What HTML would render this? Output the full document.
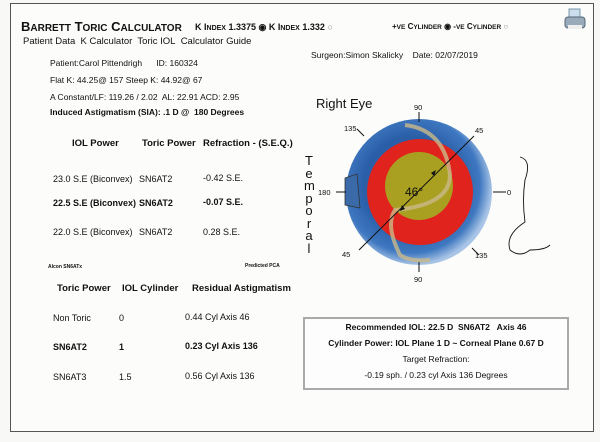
<!DOCTYPE html>
<html><head><meta charset="utf-8"><style>
body{margin:0;width:600px;height:442px;background:#f8f8f6;font-family:"Liberation Sans",sans-serif;color:#111;position:relative;overflow:hidden}
.t{position:absolute;white-space:nowrap}
.s{font-size:8.5px}
.b{font-weight:bold}
.c{font-family:"Liberation Sans",sans-serif}
.h{font-size:9.5px;font-weight:bold}
.r{font-size:9px}
</style></head><body>
<div style="position:absolute;left:10px;top:3px;width:582px;height:427px;border:1.5px solid #555;background:#fcfcfb"></div>
<div class="t b" style="left:21px;top:19px;font-size:13px">B<span style="font-size:10px">ARRETT</span> T<span style="font-size:10px">ORIC</span> C<span style="font-size:10px">ALCULATOR</span></div>
<div class="t b" style="left:195px;top:22px;font-size:9px">K I<span style="font-size:7px">NDEX</span> 1.3375 ◉ K I<span style="font-size:7px">NDEX</span> 1.332 <span style="font-weight:normal;color:#888">○</span></div>
<div class="t b" style="left:392px;top:22px;font-size:8px">+<span style="font-size:6.5px">VE</span> C<span style="font-size:6.5px">YLINDER</span> ◉ -<span style="font-size:6.5px">VE</span> C<span style="font-size:6.5px">YLINDER</span> <span style="font-weight:normal;color:#888">○</span></div>
<svg style="position:absolute;left:563px;top:8px" width="24" height="24"><rect x="6" y="1" width="11" height="9" fill="#cde" stroke="#79a"/><rect x="2" y="9" width="20" height="11" rx="3" fill="#9ab" stroke="#567"/><rect x="5" y="17" width="14" height="4" fill="#eee"/></svg>
<div class="t c" style="left:23px;top:36px;font-size:9.5px">Patient Data&nbsp; K Calculator&nbsp; Toric IOL&nbsp; Calculator Guide</div>
<div class="t s" style="left:50px;top:58px">Patient:Carol Pittendrigh &nbsp;&nbsp;&nbsp;&nbsp; ID: 160324</div>
<div class="t s" style="left:50px;top:75px">Flat K: 44.25@ 157 Steep K: 44.92@ 67</div>
<div class="t s" style="left:50px;top:92px">A Constant/LF: 119.26 / 2.02&nbsp; AL: 22.91 ACD: 2.95</div>
<div class="t s b" style="left:50px;top:107px">Induced Astigmatism (SIA): .1 D @&nbsp; 180 Degrees</div>
<div class="t s" style="left:311px;top:50px">Surgeon:Simon Skalicky &nbsp;&nbsp; Date: 02/07/2019</div>
<div class="t h" style="left:72px;top:138px">IOL Power</div>
<div class="t h" style="left:142px;top:138px">Toric Power</div>
<div class="t h" style="left:203px;top:138px">Refraction - (S.E.Q.)</div>
<div class="t r" style="left:53px;top:174px">23.0 S.E (Biconvex)</div><div class="t r" style="left:139px;top:174px">SN6AT2</div><div class="t r" style="left:203px;top:173px">-0.42 S.E.</div>
<div class="t r b" style="left:53px;top:198px">22.5 S.E (Biconvex)</div><div class="t r b" style="left:139px;top:198px">SN6AT2</div><div class="t r b" style="left:203px;top:197px">-0.07 S.E.</div>
<div class="t r" style="left:53px;top:227px">22.0 S.E (Biconvex)</div><div class="t r" style="left:139px;top:227px">SN6AT2</div><div class="t r" style="left:203px;top:227px">0.28 S.E.</div>
<div class="t b" style="left:48px;top:264px;font-size:5px">Alcon SN6ATx</div>
<div class="t b" style="left:245px;top:263px;font-size:5px">Predicted PCA</div>
<div class="t h" style="left:57px;top:283px">Toric Power</div>
<div class="t h" style="left:122px;top:283px">IOL Cylinder</div>
<div class="t h" style="left:192px;top:283px">Residual Astigmatism</div>
<div class="t r" style="left:53px;top:313px">Non Toric</div><div class="t r" style="left:119px;top:313px">0</div><div class="t r" style="left:185px;top:312px">0.44 Cyl Axis 46</div>
<div class="t r b" style="left:53px;top:342px">SN6AT2</div><div class="t r b" style="left:119px;top:342px">1</div><div class="t r b" style="left:185px;top:341px">0.23 Cyl Axis 136</div>
<div class="t r" style="left:53px;top:372px">SN6AT3</div><div class="t r" style="left:119px;top:372px">1.5</div><div class="t r" style="left:185px;top:371px">0.56 Cyl Axis 136</div>
<div style="position:absolute;left:303px;top:317px;width:262px;height:69px;border:2px solid #aaa;background:#fdfdfd"></div>
<div class="t s b" style="left:303px;width:266px;text-align:center;top:322px">Recommended IOL: 22.5 D&nbsp; SN6AT2&nbsp;&nbsp; Axis 46</div>
<div class="t s b" style="left:303px;width:266px;text-align:center;top:338px">Cylinder Power: IOL Plane 1 D ~ Corneal Plane 0.67 D</div>
<div class="t s" style="left:303px;width:266px;text-align:center;top:354px">Target Refraction:</div>
<div class="t s" style="left:303px;width:266px;text-align:center;top:370px">-0.19 sph. / 0.23 cyl Axis 136 Degrees</div>
<div class="t" style="left:316px;top:96px;font-size:13px">Right Eye</div>
<div class="t" style="left:304px;top:155px;font-size:13px;line-height:12.5px;text-align:center;width:10px">T<br>e<br>m<br>p<br>o<br>r<br>a<br>l</div>
<svg style="position:absolute;left:0;top:0" width="600" height="442">
<defs><radialGradient id="g" cx="45%" cy="45%" r="55%"><stop offset="0.6" stop-color="#2a5fa8"/><stop offset="0.85" stop-color="#3f78c0"/><stop offset="1" stop-color="#a8c4e6"/></radialGradient></defs>
<circle cx="419" cy="192" r="73" fill="url(#g)"/>
<circle cx="405" cy="212" r="28" fill="#1a3d7a" opacity="0.4"/>
<circle cx="420" cy="192" r="53" fill="#e0231c"/>
<circle cx="419" cy="186" r="34" fill="#a9a021"/>
<path d="M405 125 Q445 130 450 175 Q450 205 395 210 Q385 225 400 255 Q410 262 430 260" fill="none" stroke="#c9b98a" stroke-width="4" opacity="0.8"/>
<path d="M345 178 L357 174 L360 208 L345 205 Z" fill="#3a6aa8" stroke="#333" stroke-width="0.8"/>
<g stroke="#111" stroke-width="1"><line x1="419" y1="112" x2="419" y2="122"/><line x1="419" y1="262" x2="419" y2="272"/><line x1="336" y1="192" x2="346" y2="192"/><line x1="493" y1="192" x2="506" y2="192"/><line x1="357" y1="129" x2="364" y2="136"/><line x1="472" y1="248" x2="479" y2="255"/><line x1="474" y1="136" x2="359" y2="250"/></g>
<polygon points="431,173 436,170 434,176" fill="#111"/><polygon points="400,211 402,205 405,209" fill="#111"/>
<g font-family="Liberation Sans" font-size="7.5" fill="#111"><text x="414" y="110">90</text><text x="414" y="282">90</text><text x="318" y="195">180</text><text x="507" y="195">0</text><text x="344" y="131">135</text><text x="475" y="133">45</text><text x="342" y="257">45</text><text x="475" y="258">135</text></g>
<text x="405" y="196" font-family="Liberation Sans" font-size="12" fill="#111">46°</text>
<path d="M520 157 Q532 160 525 180 Q522 200 525 222 Q505 235 510 250 Q520 258 530 250 Q545 250 550 245" fill="none" stroke="#111" stroke-width="0.9"/>
</svg>
</body></html>
